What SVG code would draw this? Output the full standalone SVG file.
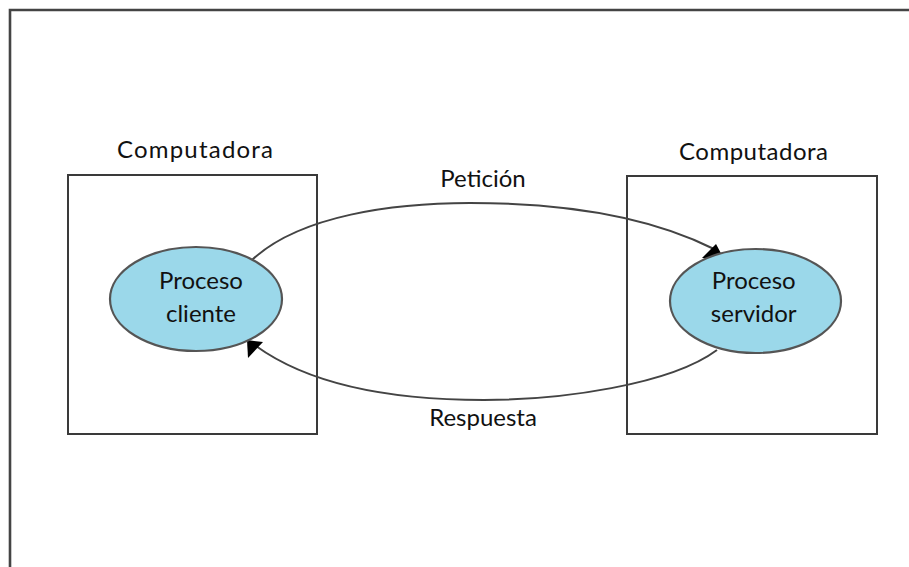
<svg xmlns="http://www.w3.org/2000/svg" width="909" height="567" viewBox="0 0 909 567">
<style>
.box{fill:#fff;stroke:#3a3a3a;stroke-width:2}
.ell{fill:#9bd8ea;stroke:#555;stroke-width:2.2}
.con{fill:none;stroke:#444;stroke-width:2}
.head{fill:#000}
text{font-family:"Lato","Open Sans","Liberation Sans",sans-serif;font-size:24px;fill:#111;text-anchor:middle}
</style>
<rect width="909" height="567" fill="#fff"/>
<g id="frame"><path d="M10 567V10H909" fill="none" stroke="#444" stroke-width="2.6"/></g>
<g id="box-left"><rect class="box" x="68" y="175" width="249" height="259"/><text x="195" y="158" textLength="156">Computadora</text></g>
<g id="box-right"><rect class="box" x="627" y="176" width="250" height="258"/><text x="753.5" y="160" textLength="149">Computadora</text></g>
<g id="connectors">
<path class="con" d="M252 260C300 215 395 203 470 203C570 203 650 217 714 249"/>
<path class="con" d="M717 350C670 385 560 400 484 400C390 400 310 385 256 346"/>
<polygon class="head" points="716,244 702,258 724,259"/>
<polygon class="head" points="247,340 263,342 248,358"/>
</g>
<g id="node-cliente"><ellipse class="ell" cx="196" cy="299" rx="86" ry="52"/><text x="201" y="289">Proceso</text><text x="201" y="322">cliente</text></g>
<g id="node-servidor"><ellipse class="ell" cx="755.5" cy="301" rx="85.5" ry="52"/><text x="753.7" y="289">Proceso</text><text x="753.7" y="322">servidor</text></g>
<g id="label-peticion"><text x="483" y="187">Petición</text></g>
<g id="label-respuesta"><text x="483" y="426">Respuesta</text></g>
</svg>
